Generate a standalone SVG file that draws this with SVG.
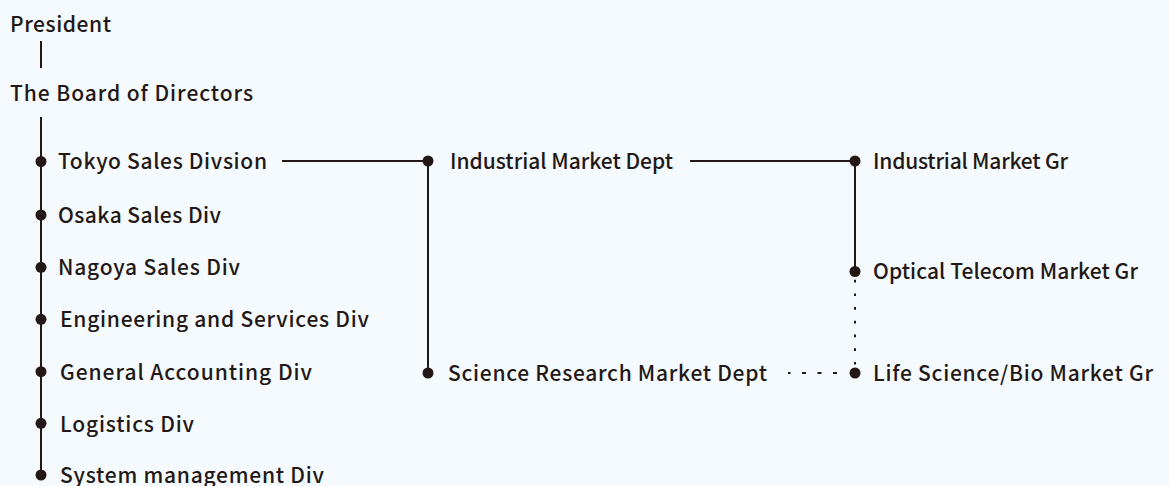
<svg xmlns="http://www.w3.org/2000/svg" width="1169" height="486" viewBox="0 0 1169 486">
  <style>
    .t { font-family: "Noto Sans CJK JP", "Noto Sans", sans-serif; font-size: 21px; font-weight: 500; fill: #231815; }
    .ln { stroke: #231815; stroke-width: 2; fill: none; }
    .dot { fill: #231815; }
    .dv { stroke: #231815; stroke-width: 2; fill: none; stroke-dasharray: 2.7 11; }
    .dh { stroke: #231815; stroke-width: 2; fill: none; stroke-dasharray: 4 11.5; }
  </style>
  <rect x="0" y="0" width="1169" height="486" fill="#f5faff"/>
  <g id="connectors">
    <line class="ln" x1="41" y1="41" x2="41" y2="68"/>
    <line class="ln" x1="41" y1="117" x2="41" y2="475"/>
    <line class="ln" x1="282" y1="161" x2="428" y2="161"/>
    <line class="ln" x1="428" y1="161" x2="428" y2="373"/>
    <line class="ln" x1="690" y1="161" x2="855" y2="161"/>
    <line class="ln" x1="855" y1="161" x2="855" y2="271.5"/>
    <line class="dv" x1="855" y1="279.7" x2="855" y2="368"/>
    <line class="dh" x1="837" y1="373" x2="788" y2="373"/>
  </g>
  <g id="president"><text class="t" x="10" y="31.5" textLength="101">President</text></g>
  <g id="board"><text class="t" x="10" y="100.5" textLength="243">The Board of Directors</text></g>
  <g id="tokyo"><circle class="dot" cx="41" cy="161.5" r="5.5"/><text class="t" x="58" y="169" textLength="209">Tokyo Sales Divsion</text></g>
  <g id="osaka"><circle class="dot" cx="41" cy="215" r="5.5"/><text class="t" x="58" y="223" textLength="163">Osaka Sales Div</text></g>
  <g id="nagoya"><circle class="dot" cx="41" cy="267.3" r="5.5"/><text class="t" x="58" y="275" textLength="182">Nagoya Sales Div</text></g>
  <g id="engineering"><circle class="dot" cx="41" cy="319.3" r="5.5"/><text class="t" x="60" y="327.3" textLength="309">Engineering and Services Div</text></g>
  <g id="accounting"><circle class="dot" cx="41" cy="371.7" r="5.5"/><text class="t" x="60" y="379.7" textLength="252">General Accounting Div</text></g>
  <g id="logistics"><circle class="dot" cx="41" cy="423.3" r="5.5"/><text class="t" x="60" y="431.5" textLength="134">Logistics Div</text></g>
  <g id="system"><circle class="dot" cx="41" cy="475" r="5.5"/><text class="t" x="60" y="483" textLength="264">System management Div</text></g>
  <g id="industrial-dept"><circle class="dot" cx="428" cy="161" r="5.5"/><text class="t" x="450" y="169" textLength="223">Industrial Market Dept</text></g>
  <g id="science-dept"><circle class="dot" cx="428" cy="373" r="5.5"/><text class="t" x="448" y="381" textLength="319">Science Research Market Dept</text></g>
  <g id="industrial-gr"><circle class="dot" cx="855" cy="161" r="5.5"/><text class="t" x="873" y="169.3" textLength="195">Industrial Market Gr</text></g>
  <g id="optical-gr"><circle class="dot" cx="855" cy="271.5" r="5.5"/><text class="t" x="873" y="278.5" textLength="265">Optical Telecom Market Gr</text></g>
  <g id="life-gr"><circle class="dot" cx="855" cy="373" r="5.5"/><text class="t" x="873" y="381" textLength="280">Life Science/Bio Market Gr</text></g>
</svg>
